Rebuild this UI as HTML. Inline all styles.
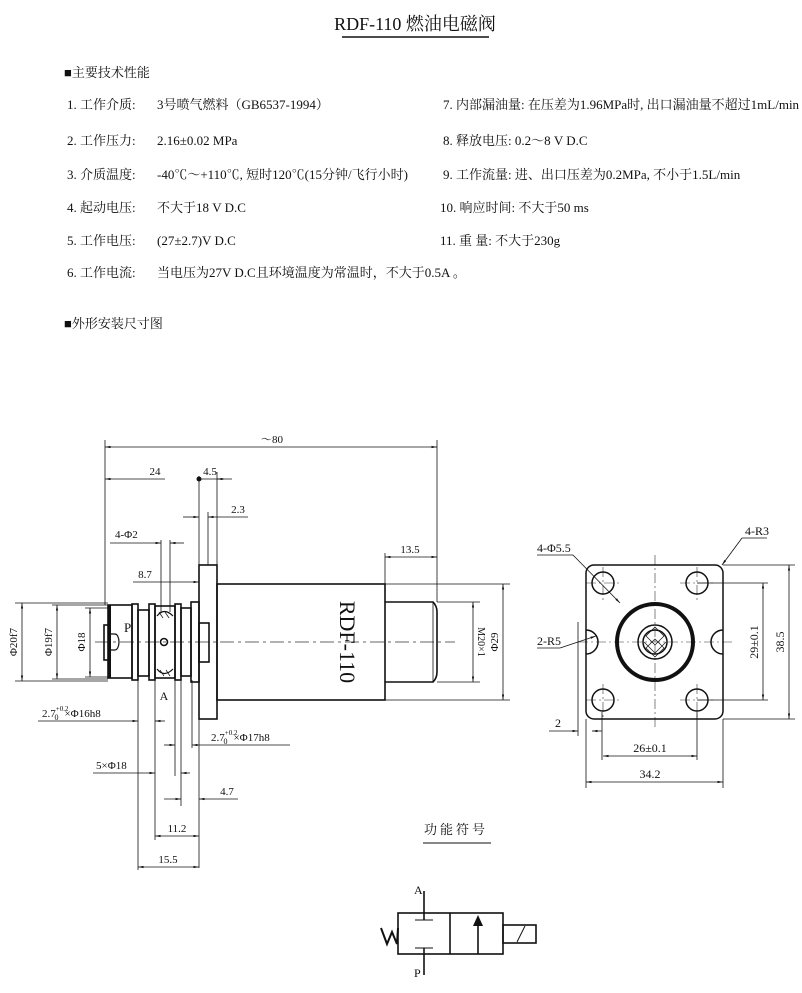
<!DOCTYPE html>
<html><head><meta charset="utf-8"><style>
html,body{margin:0;padding:0;background:#fff;}
svg{display:block;}
text{font-family:"Liberation Serif","Noto Serif CJK SC","Noto Sans CJK SC",serif;fill:#111;}
.t{font-size:13px;}
.d{font-size:11px;}
</style></head><body>
<svg width="802" height="993" viewBox="0 0 802 993" xmlns="http://www.w3.org/2000/svg">
<defs>
<marker id="a" viewBox="0 0 10 10" refX="10" refY="5" markerWidth="7" markerHeight="7" orient="auto-start-reverse"><path d="M0,3 L10,5 L0,7z" fill="#111"/></marker>
</defs>
<text x="415" y="30" font-size="18" text-anchor="middle">RDF-110 燃油电磁阀</text>
<line x1="342" y1="37" x2="489" y2="37" stroke="#111" stroke-width="1.5"/>
<text x="64" y="77" class="t">■主要技术性能</text>
<g class="t">
<text x="67" y="109">1.  工作介质:</text><text x="157" y="109">3号喷气燃料（GB6537-1994）</text>
<text x="67" y="145">2.  工作压力:</text><text x="157" y="145">2.16±0.02 MPa</text>
<text x="67" y="179">3.  介质温度:</text><text x="157" y="179">-40℃～+110℃, 短时120℃(15分钟/飞行小时)</text>
<text x="67" y="212">4.  起动电压:</text><text x="157" y="212">不大于18 V D.C</text>
<text x="67" y="245">5.  工作电压:</text><text x="157" y="245">(27±2.7)V  D.C</text>
<text x="67" y="277">6.  工作电流:</text><text x="157" y="277">当电压为27V D.C且环境温度为常温时，不大于0.5A 。</text>
<text x="443" y="109">7.  内部漏油量: 在压差为1.96MPa时, 出口漏油量不超过1mL/min 。</text>
<text x="443" y="145">8.  释放电压:  0.2～8 V D.C</text>
<text x="443" y="179">9.  工作流量: 进、出口压差为0.2MPa, 不小于1.5L/min</text>
<text x="440" y="212">10.  响应时间: 不大于50 ms</text>
<text x="440" y="245">11.  重    量:  不大于230g</text>
</g>
<text x="64" y="328" class="t">■外形安装尺寸图</text>

<g stroke="#111" fill="none" stroke-width="0.8">
<!-- extension lines -->
<line x1="105" y1="440" x2="105" y2="605"/>
<line x1="437" y1="440" x2="437" y2="602"/>
<line x1="199" y1="476" x2="199" y2="868"/>
<line x1="217" y1="472" x2="217" y2="565"/>
<line x1="208" y1="512" x2="208" y2="565"/>
<line x1="161" y1="540" x2="161" y2="612"/>
<line x1="170" y1="540" x2="170" y2="612"/>
<line x1="385" y1="553" x2="385" y2="584"/>
<line x1="138" y1="680" x2="138" y2="870"/>
<line x1="155" y1="680" x2="155" y2="840"/>
<line x1="175" y1="680" x2="175" y2="776"/>
<line x1="181" y1="680" x2="181" y2="806"/>
<line x1="192" y1="680" x2="192" y2="748"/>
<line x1="15" y1="603" x2="108" y2="603"/><line x1="15" y1="681" x2="108" y2="681"/>
<line x1="52" y1="605" x2="108" y2="605"/><line x1="52" y1="679" x2="108" y2="679"/>
<line x1="85" y1="608" x2="108" y2="608"/><line x1="85" y1="677" x2="108" y2="677"/>
<line x1="437" y1="602" x2="480" y2="602"/><line x1="437" y1="682" x2="480" y2="682"/>
<line x1="385" y1="584" x2="510" y2="584"/><line x1="385" y1="700" x2="510" y2="700"/>
<!-- dimension lines -->
<line x1="105" y1="447" x2="437" y2="447" marker-start="url(#a)" marker-end="url(#a)"/>
<line x1="105" y1="479" x2="165" y2="479" marker-start="url(#a)"/>
<line x1="199" y1="479" x2="232" y2="479"/>
<line x1="217" y1="479" x2="224" y2="479" marker-start="url(#a)"/>
<line x1="183" y1="517" x2="199" y2="517" marker-end="url(#a)"/>
<line x1="208" y1="517" x2="248" y2="517" marker-start="url(#a)"/>
<line x1="110" y1="543" x2="161" y2="543" marker-end="url(#a)"/>
<line x1="170" y1="543" x2="184" y2="543" marker-start="url(#a)"/>
<line x1="133" y1="582" x2="199" y2="582" marker-end="url(#a)"/>
<line x1="385" y1="557" x2="437" y2="557" marker-start="url(#a)" marker-end="url(#a)"/>
<line x1="22" y1="603" x2="22" y2="681" marker-start="url(#a)" marker-end="url(#a)"/>
<line x1="57" y1="605" x2="57" y2="679" marker-start="url(#a)" marker-end="url(#a)"/>
<line x1="90" y1="608" x2="90" y2="677" marker-start="url(#a)" marker-end="url(#a)"/>
<line x1="473" y1="602" x2="473" y2="682" marker-start="url(#a)" marker-end="url(#a)"/>
<line x1="503" y1="584" x2="503" y2="700" marker-start="url(#a)" marker-end="url(#a)"/>
<line x1="38" y1="721" x2="138" y2="721" marker-end="url(#a)"/>
<line x1="155" y1="721" x2="165" y2="721" marker-start="url(#a)"/>
<line x1="164" y1="745" x2="175" y2="745" marker-end="url(#a)"/>
<line x1="192" y1="745" x2="290" y2="745" marker-start="url(#a)"/>
<line x1="93" y1="773" x2="155" y2="773" marker-end="url(#a)"/>
<line x1="181" y1="773" x2="190" y2="773" marker-start="url(#a)"/>
<line x1="164" y1="799" x2="181" y2="799" marker-end="url(#a)"/>
<line x1="199" y1="799" x2="238" y2="799" marker-start="url(#a)"/>
<line x1="155" y1="836" x2="199" y2="836" marker-start="url(#a)" marker-end="url(#a)"/>
<line x1="138" y1="867" x2="199" y2="867" marker-start="url(#a)" marker-end="url(#a)"/>
</g>
<circle cx="199" cy="479" r="2.5" fill="#111"/>
<!-- center line -->
<line x1="95" y1="642" x2="455" y2="642" stroke="#333" stroke-width="0.7" stroke-dasharray="14,4,3,4"/>
<!-- body -->
<g stroke="#111" fill="none" stroke-width="1.6">
<rect x="199" y="565" width="18" height="154"/>
<rect x="217" y="584" width="168" height="116"/>
<path d="M385,602 H433 Q437,606 437,612 V672 Q437,678 433,682 H385"/>
<line x1="433" y1="602" x2="433" y2="682" stroke-width="0.8"/>
<rect x="199" y="623" width="10" height="39"/>
<rect x="108" y="605" width="24" height="73"/>
<rect x="132" y="604" width="6" height="76"/>
<rect x="138" y="610" width="11" height="66"/>
<rect x="149" y="604" width="6" height="76"/>
<rect x="155" y="606" width="20" height="72"/>
<rect x="175" y="604" width="6" height="76"/>
<rect x="181" y="608" width="10" height="68"/>
<rect x="191" y="602" width="8" height="80"/>
<rect x="104" y="625" width="5" height="35"/>
<path d="M110,634 h5 a4,8 0 0 1 0,16 h-5z" stroke-width="1.2"/>
<circle cx="164" cy="642" r="3.5"/>
</g>
<rect x="108" y="605" width="3" height="73" fill="#111"/>
<path d="M157,616 q7,-9 16,0 M157,669 q7,9 16,0" stroke="#111" stroke-width="1.2" fill="none"/>
<path d="M159,612 l4,6 M165,612 l4,6 M160,670 l4,6 M166,670 l4,6" stroke="#111" stroke-width="0.7"/>
<!-- left dims text -->
<g class="d" font-size="12">
<text x="272" y="443" text-anchor="middle">～80</text>
<text x="155" y="475" text-anchor="middle">24</text>
<text x="210" y="475" text-anchor="middle">4.5</text>
<text x="238" y="513" text-anchor="middle">2.3</text>
<text x="115" y="538">4-Φ2</text>
<text x="145" y="578" text-anchor="middle">8.7</text>
<text x="410" y="553" text-anchor="middle">13.5</text>
<text x="124" y="632" font-size="13">P</text>
<text x="164" y="700" text-anchor="middle" font-size="12">A</text>
<text x="42" y="717">2.7<tspan font-size="7" dy="-6">+0.2</tspan><tspan font-size="8" dx="-14" dy="9">0</tspan><tspan dy="-3" dx="6">×Φ16h8</tspan></text>
<text x="211" y="741">2.7<tspan font-size="7" dy="-6">+0.2</tspan><tspan font-size="8" dx="-14" dy="9">0</tspan><tspan dy="-3" dx="6">×Φ17h8</tspan></text>
<text x="96" y="769">5×Φ18</text>
<text x="227" y="795" text-anchor="middle">4.7</text>
<text x="177" y="832" text-anchor="middle">11.2</text>
<text x="168" y="863" text-anchor="middle">15.5</text>
<text transform="translate(17,642) rotate(-90)" text-anchor="middle">Φ20f7</text>
<text transform="translate(52,642) rotate(-90)" text-anchor="middle">Φ19f7</text>
<text transform="translate(85,642) rotate(-90)" text-anchor="middle">Φ18</text>
<text transform="translate(478,642) rotate(90)" text-anchor="middle" font-size="10">M20×1</text>
<text transform="translate(498,642) rotate(-90)" text-anchor="middle">Φ29</text>
</g>
<text transform="translate(340,642) rotate(90)" text-anchor="middle" font-size="22">RDF-110</text>

<!-- right view -->
<g stroke="#333" stroke-width="0.6" stroke-dasharray="10,3,2,3" fill="none">
<line x1="655" y1="555" x2="655" y2="730"/>
<line x1="578" y1="642" x2="732" y2="642"/>
<line x1="603" y1="567" x2="603" y2="600"/><line x1="697" y1="567" x2="697" y2="600"/>
<line x1="603" y1="684" x2="603" y2="717"/><line x1="697" y1="684" x2="697" y2="717"/>
<line x1="586" y1="583" x2="620" y2="583"/><line x1="680" y1="583" x2="714" y2="583"/>
<line x1="586" y1="700" x2="620" y2="700"/><line x1="680" y1="700" x2="714" y2="700"/>
</g>
<g stroke="#111" fill="none" stroke-width="1.5">
<rect x="586" y="565" width="137" height="154" rx="8"/>
<circle cx="603" cy="583" r="11"/><circle cx="697" cy="583" r="11"/>
<circle cx="603" cy="700" r="11"/><circle cx="697" cy="700" r="11"/>
<path d="M586,630 a12,12 0 0 1 0,24"/><path d="M723,630 a12,12 0 0 0 0,24"/>
<circle cx="655" cy="642" r="38" stroke-width="4"/>
<circle cx="655" cy="642" r="17"/>
<circle cx="655" cy="642" r="12"/>
</g>
<path d="M646,636 l9,-9 l9,9 l-9,9z M646,648 l9,-9 l9,9 l-9,9z M644,642 l11,11 M666,642 l-11,11" stroke="#111" stroke-width="0.7" fill="none"/>
<g stroke="#111" fill="none" stroke-width="0.8">
<line x1="537" y1="555" x2="573" y2="555"/><line x1="573" y1="555" x2="620" y2="603" marker-end="url(#a)"/>
<line x1="767" y1="538" x2="742" y2="538"/><line x1="742" y1="538" x2="722" y2="565" marker-end="url(#a)"/>
<line x1="537" y1="648" x2="560" y2="648"/><line x1="560" y1="648" x2="596" y2="636" marker-end="url(#a)"/>
<line x1="697" y1="583" x2="768" y2="583"/><line x1="697" y1="700" x2="768" y2="700"/>
<line x1="723" y1="565" x2="795" y2="565"/><line x1="723" y1="719" x2="795" y2="719"/>
<line x1="763" y1="583" x2="763" y2="700" marker-start="url(#a)" marker-end="url(#a)"/>
<line x1="789" y1="565" x2="789" y2="719" marker-start="url(#a)" marker-end="url(#a)"/>
<line x1="578" y1="622" x2="578" y2="736"/><line x1="602" y1="712" x2="602" y2="760"/>
<line x1="697" y1="712" x2="697" y2="760"/>
<line x1="586" y1="719" x2="586" y2="788"/><line x1="723" y1="719" x2="723" y2="788"/>
<line x1="549" y1="731" x2="578" y2="731" marker-end="url(#a)"/>
<line x1="602" y1="731" x2="592" y2="731" marker-end="url(#a)"/>
<line x1="603" y1="756" x2="697" y2="756" marker-start="url(#a)" marker-end="url(#a)"/>
<line x1="586" y1="782" x2="723" y2="782" marker-start="url(#a)" marker-end="url(#a)"/>
</g>
<g font-size="12">
<text x="537" y="552">4-Φ5.5</text>
<text x="745" y="535">4-R3</text>
<text x="537" y="645">2-R5</text>
<text x="555" y="727">2</text>
<text x="650" y="752" text-anchor="middle">26±0.1</text>
<text x="650" y="778" text-anchor="middle">34.2</text>
<text transform="translate(758,642) rotate(-90)" text-anchor="middle">29±0.1</text>
<text transform="translate(784,642) rotate(-90)" text-anchor="middle">38.5</text>
</g>

<!-- function symbol -->
<text x="456" y="834" text-anchor="middle" font-size="13" letter-spacing="3">功能符号</text>
<line x1="423" y1="843" x2="491" y2="843" stroke="#111" stroke-width="1"/>
<g stroke="#111" fill="none" stroke-width="1.6">
<rect x="398" y="913" width="105" height="41"/>
<line x1="450" y1="913" x2="450" y2="954"/>
<rect x="503" y="925" width="33" height="18"/>
<line x1="424" y1="891" x2="424" y2="920"/>
<line x1="424" y1="948" x2="424" y2="975"/>
<line x1="478" y1="954" x2="478" y2="920"/>
</g>
<path d="M473,926 L478,915 L483,926z" fill="#111"/>
<line x1="517" y1="942" x2="525" y2="926" stroke="#111" stroke-width="1"/>
<line x1="415" y1="920" x2="433" y2="920" stroke="#111" stroke-width="1"/>
<line x1="415" y1="948" x2="433" y2="948" stroke="#111" stroke-width="1"/>
<path d="M381,928 L387,944 L392,932 L397,944 L398,928" stroke="#111" stroke-width="2" fill="none"/>
<text x="414" y="894" font-size="12">A</text>
<text x="414" y="977" font-size="12">P</text>
</svg>
</body></html>
